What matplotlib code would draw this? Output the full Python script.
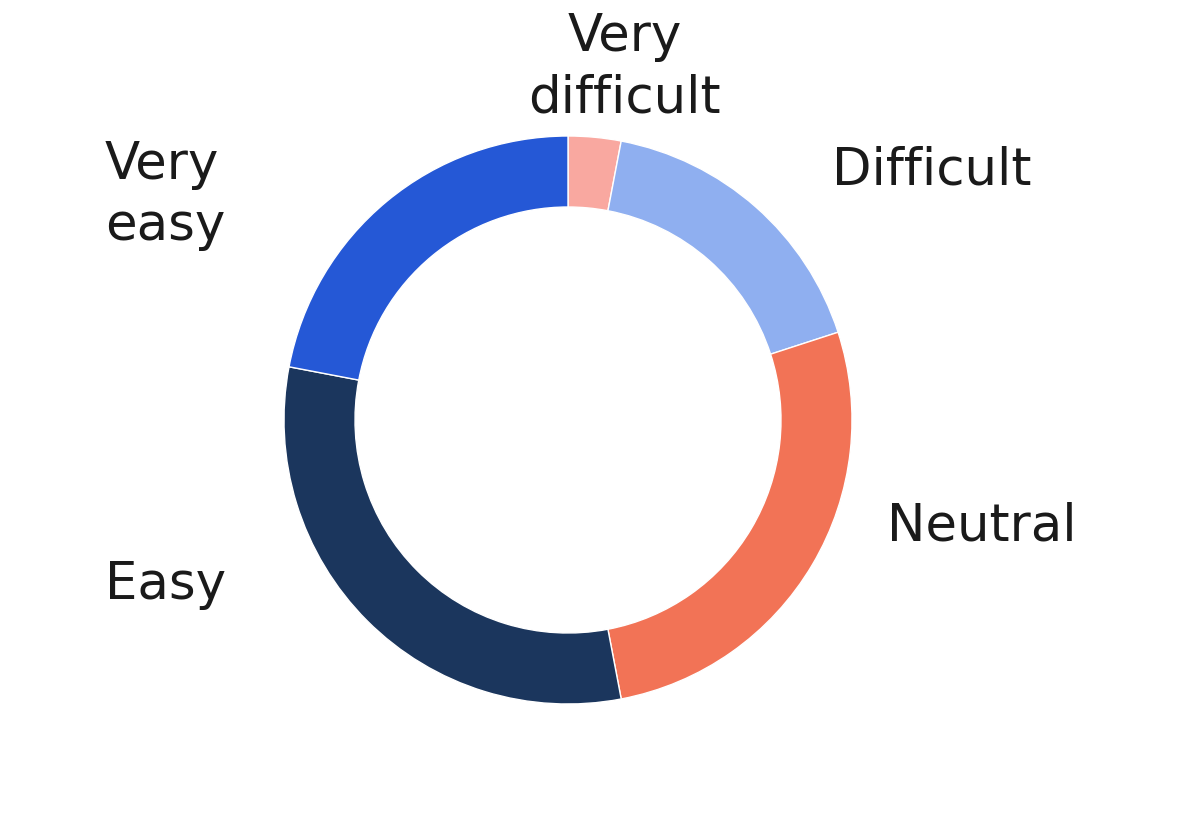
import matplotlib
matplotlib.use("Agg")
import matplotlib.pyplot as plt

# answer shares (percent), clockwise from the top
labels = ["Very\ndifficult", "Difficult", "Neutral", "Easy", "Very\neasy"]
shares = [3, 17, 27, 31, 22]
colors = ["#F9A8A0", "#8FAFF0", "#F27356", "#1B365D", "#2558D6"]

# where each label sits (in units of the ring radius) and how it is aligned
label_pos = [(0.20, 1.24), (0.93, 0.88), (1.125, -0.375), (-1.63, -0.58), (-1.63, 0.79)]
label_ha = ["center", "left", "left", "left", "left"]

plt.rcParams['font.family'] = ['DejaVu Sans']

fig = plt.figure(figsize=(12, 8.4), dpi=100)
# centre of ring at (568, 420) px, radius 284 px
ax = fig.add_axes([284 / 1200, 136 / 840, 568 / 1200, 568 / 840])
ax.pie(shares, colors=colors, startangle=90, counterclock=False,
       radius=1.0, wedgeprops=dict(width=0.25, edgecolor="white", linewidth=1))
ax.set_xlim(-1, 1)
ax.set_ylim(-1, 1)
ax.set_aspect("equal")
ax.axis("off")

for lab, (x, y), ha in zip(labels, label_pos, label_ha):
    ax.text(x, y, lab, ha=ha, va="center", fontsize=37, color="#1a1a1a",
            linespacing=1.3, multialignment=ha, clip_on=False)

fig.savefig("out.png", dpi=100, facecolor="white")
